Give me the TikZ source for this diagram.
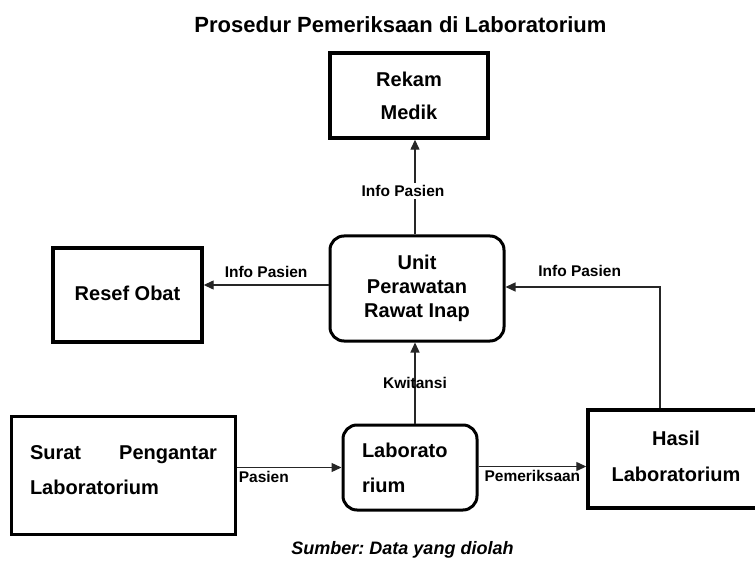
\documentclass[tikz,border=0pt]{standalone}
\usepackage{fontspec}
\setmainfont{Liberation Sans}
\usetikzlibrary{arrows.meta}
\begin{document}
\frenchspacing
\begin{tikzpicture}[x=1pt,y=-1pt,
  box/.style={draw=black,line width=3.4pt,fill=white,inner sep=0pt,font=\bfseries\fontsize{20}{33}\selectfont,align=center},
  rbox/.style={box,line width=3pt,rounded corners=14pt},
  arr/.style={draw=black!85,line width=1.3pt,-{Triangle[length=10pt,width=9pt]}},
  lbl/.style={font=\bfseries\fontsize{15.5}{18}\selectfont,inner sep=1pt}]
\useasboundingbox (0,0) rectangle (755,561);
\node[font=\bfseries\fontsize{22}{26}\selectfont] (title) at (400.5,25) {Prosedur Pemeriksaan di Laboratorium};
\node[box,minimum width=158pt,minimum height=85pt] (rekam) at (409,95.5) {Rekam\\Medik};
\node[rbox,minimum width=174pt,minimum height=105pt,font=\bfseries\fontsize{20}{24}\selectfont] (unit) at (417,288.5) {Unit\\Perawatan\\Rawat Inap};
\node[box,minimum width=149pt,minimum height=94pt] (resef) at (127.5,295) {\raisebox{4pt}{Resef Obat}};
\node[box,minimum width=224pt,minimum height=118pt,align=left,font=\bfseries\fontsize{20}{35}\selectfont] (surat) at (123.5,475.5) {\makebox[187pt][s]{Surat\hfill Pengantar}\\Laboratorium\\[-25pt]\mbox{}};
\node[rbox,minimum width=134pt,minimum height=85pt,text width=96pt,align=left,font=\bfseries\fontsize{20}{35}\selectfont] (lab) at (410,467.5) {Laborato\\rium};
\node[box,minimum width=176pt,minimum height=98pt,font=\bfseries\fontsize{20}{36}\selectfont] (hasil) at (676,459) {\raisebox{5pt}{Hasil}\\\raisebox{5pt}{Laboratorium}};
\node[font=\bfseries\itshape\fontsize{18}{22}\selectfont] (src) at (402.5,550) {Sumber: Data yang diolah};
% connectors
\draw[arr] ([yshift=3.5pt]unit.west) -- ([yshift=3.5pt]unit.west -| resef.east)
  node[lbl,midway,above=6pt] {Info Pasien};
\draw[arr] ([xshift=-2pt]unit.north) -- ([xshift=-2pt]unit.north |- rekam.south)
  node[lbl,pos=0.46,fill=white,xshift=-12pt,inner sep=2pt] {Info Pasien};
\draw[arr] ([xshift=5pt]lab.north) -- ([xshift=5pt]lab.north |- unit.south)
  node[lbl,midway] {Kwitansi};
\draw[arr] ([xshift=-16pt]hasil.north) |- ([yshift=1.5pt]unit.east)
  node[lbl,pos=0.76,above=9pt] {Info Pasien};
\draw[arr] (surat.east |- lab.west) -- (lab.west)
  node[lbl,pos=0,anchor=north west,yshift=-2pt] {Pasien};
\draw[arr] ([yshift=1pt]lab.east) -- ([yshift=1pt]lab.east -| hasil.west)
  node[lbl,midway,below=2pt] {Pemeriksaan};
\end{tikzpicture}
\end{document}
